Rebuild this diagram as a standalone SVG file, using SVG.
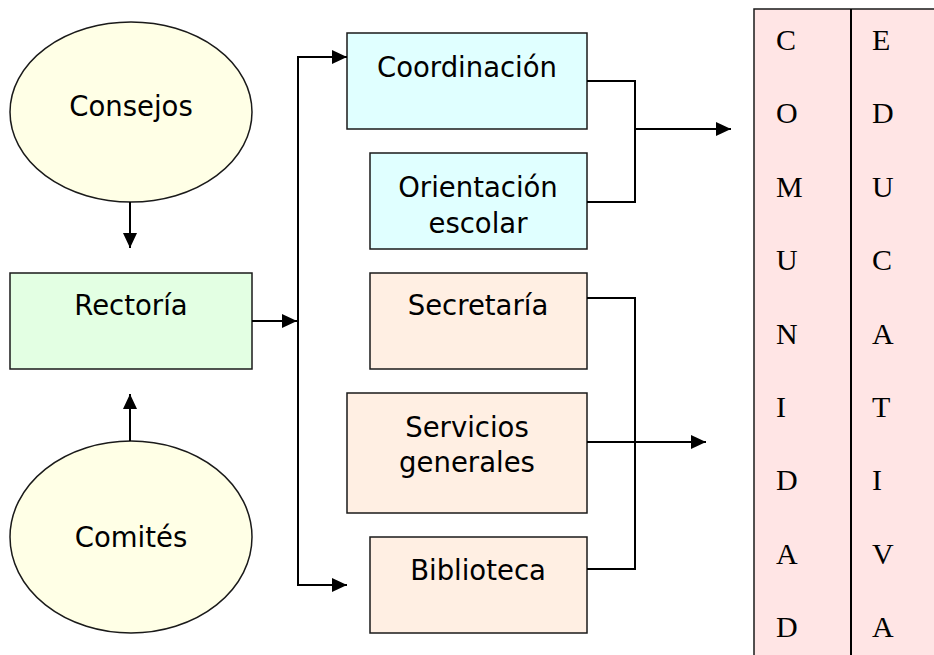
<svg xmlns="http://www.w3.org/2000/svg" width="934" height="655" viewBox="0 0 934 655">
<style>
.box{stroke:#1a1a1a;stroke-width:1.5}
.lbl{font-family:"DejaVu Sans",Verdana,sans-serif;font-size:27.5px;fill:#000;text-anchor:middle}
.let{font-family:"Liberation Serif","Times New Roman",serif;font-size:30px;fill:#000}
.con{fill:none;stroke:#000;stroke-width:2}
</style>
<defs>
<marker id="ah" markerUnits="userSpaceOnUse" markerWidth="16" markerHeight="15" refX="15" refY="7" orient="auto">
<path d="M0,0 L15,7 L0,14 z" fill="#000"/>
</marker>
</defs>
<rect width="934" height="655" fill="#fff"/>

<g id="consejos">
<ellipse class="box" cx="131" cy="112" rx="121" ry="90" fill="#FFFFE6"/>
<text class="lbl" x="131" y="116">Consejos</text>
</g>
<g id="rectoria">
<rect class="box" x="10" y="273" width="242" height="96" fill="#E3FFE3"/>
<text class="lbl" x="131" y="315">Rectoría</text>
</g>
<g id="comites">
<ellipse class="box" cx="131" cy="537" rx="121" ry="96" fill="#FFFFE6"/>
<text class="lbl" x="131" y="547">Comités</text>
</g>
<g id="coordinacion">
<rect class="box" x="347" y="33" width="240" height="96" fill="#E0FFFF"/>
<text class="lbl" x="467" y="77">Coordinación</text>
</g>
<g id="orientacion">
<rect class="box" x="370" y="153" width="217" height="96" fill="#E0FFFF"/>
<text class="lbl" x="478" y="197">Orientación</text>
<text class="lbl" x="478" y="233">escolar</text>
</g>
<g id="secretaria">
<rect class="box" x="370" y="273" width="217" height="96" fill="#FFEFE3"/>
<text class="lbl" x="478" y="315">Secretaría</text>
</g>
<g id="servicios">
<rect class="box" x="347" y="393" width="240" height="120" fill="#FFEFE3"/>
<text class="lbl" x="467" y="437">Servicios</text>
<text class="lbl" x="467" y="472">generales</text>
</g>
<g id="biblioteca">
<rect class="box" x="370" y="537" width="217" height="96" fill="#FFEFE3"/>
<text class="lbl" x="478" y="580">Biblioteca</text>
</g>

<g id="comunidad">
<rect x="754" y="9" width="200" height="660" fill="#FFE5E5" stroke="#1a1a1a" stroke-width="1.5"/>
<line x1="851" y1="9" x2="851" y2="655" stroke="#000" stroke-width="2"/>
<text class="let" x="776" y="50">C</text>
<text class="let" x="776" y="123">O</text>
<text class="let" x="776" y="197">M</text>
<text class="let" x="776" y="270">U</text>
<text class="let" x="776" y="344">N</text>
<text class="let" x="776" y="417">I</text>
<text class="let" x="776" y="490">D</text>
<text class="let" x="776" y="564">A</text>
<text class="let" x="776" y="637">D</text>
<text class="let" x="872" y="50">E</text>
<text class="let" x="872" y="123">D</text>
<text class="let" x="872" y="197">U</text>
<text class="let" x="872" y="270">C</text>
<text class="let" x="872" y="344">A</text>
<text class="let" x="872" y="417">T</text>
<text class="let" x="872" y="490">I</text>
<text class="let" x="872" y="564">V</text>
<text class="let" x="872" y="637">A</text>
</g>

<g id="connectors">
<line class="con" x1="130" y1="202" x2="130" y2="248" marker-end="url(#ah)"/>
<line class="con" x1="130" y1="441" x2="130" y2="394" marker-end="url(#ah)"/>
<line class="con" x1="252" y1="321" x2="297" y2="321" marker-end="url(#ah)"/>
<line class="con" x1="298" y1="56" x2="298" y2="586"/>
<line class="con" x1="297" y1="57" x2="347" y2="57" marker-end="url(#ah)"/>
<line class="con" x1="297" y1="585" x2="347" y2="585" marker-end="url(#ah)"/>
<path class="con" d="M587,81 H635 V202 H587"/>
<line class="con" x1="635" y1="129" x2="731" y2="129" marker-end="url(#ah)"/>
<path class="con" d="M587,298 H635 V569 H587"/>
<line class="con" x1="587" y1="442" x2="706" y2="442" marker-end="url(#ah)"/>
</g>
</svg>
